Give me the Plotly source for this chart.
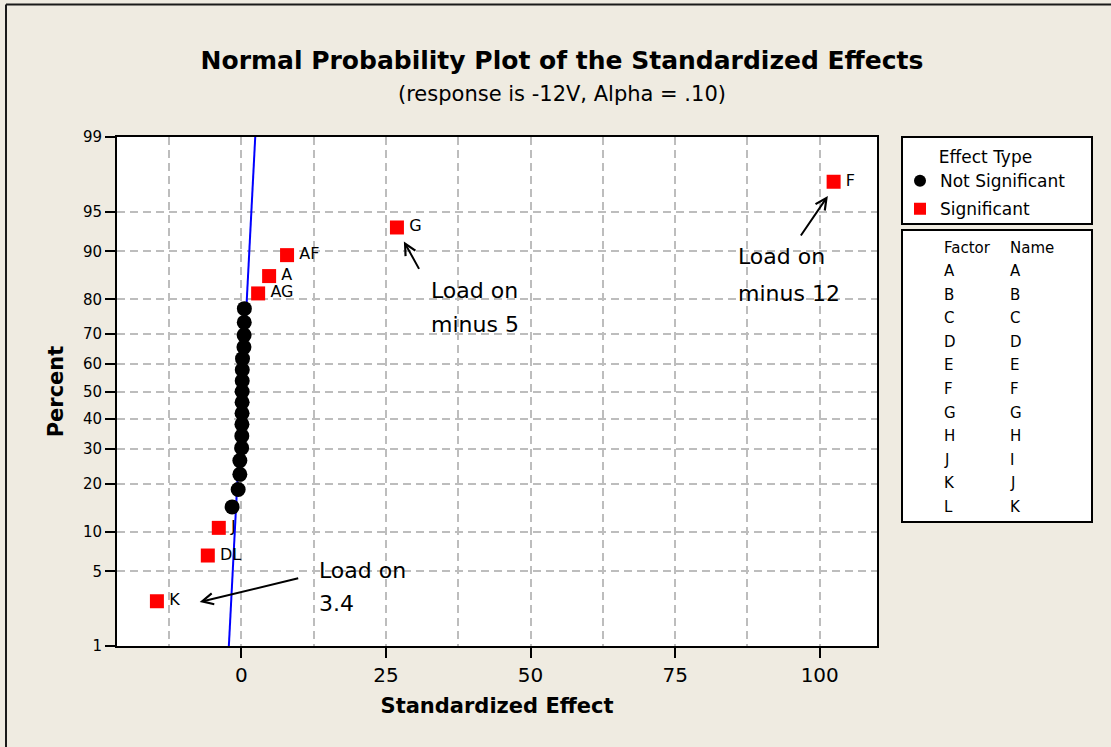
import plotly.graph_objects as go
from statistics import NormalDist

# ---------------- data ----------------
sig_labels = ["K", "DL", "J", "AG", "A", "AF", "G", "F"]
sig_effects = [-14.6, -5.8, -3.9, 2.9, 4.8, 7.9, 26.9, 102.4]
sig_percent = [2.76, 6.69, 10.63, 81.50, 85.43, 89.37, 93.31, 97.24]

ns_effects = [-1.6, -0.55, -0.26, -0.26, 0.05, 0.08, 0.10, 0.12, 0.13,
              0.14, 0.15, 0.16, 0.20, 0.45, 0.48, 0.50, 0.52]
ns_percent = [14.57, 18.50, 22.44, 26.38, 30.31, 34.25, 38.19, 42.13, 46.06,
              50.00, 53.94, 57.87, 61.81, 65.75, 69.69, 73.62, 77.56]

line_effects = [-2.16, 2.40]
line_percent = [1, 99]

percent_ticks = [1, 5, 10, 20, 30, 40, 50, 60, 70, 80, 90, 95, 99]

factor_codes = ["A", "B", "C", "D", "E", "F", "G", "H", "J", "K", "L"]
factor_names = ["A", "B", "C", "D", "E", "F", "G", "H", "I", "J", "K"]

notes = [  # (line1, line2, text x, text line1 pct, text line2 pct, arrow head x, head pct, tail dx, tail dy)
    ("Load on", "3.4", 13.0, 5.13, 2.66, -7.2, 2.72, 100, -24),
    ("Load on", "minus 5", 32.4, 82.3, 72.9, 28.1, 91.5, 16, 29),
    ("Load on", "minus 12", 85.6, 89.1, 81.6, 101.4, 96.3, -28, 41),
]

# ---------------- helpers ----------------
nd = NormalDist()


def probit(p):
    return nd.inv_cdf(p / 100.0)


FONT = "DejaVu Sans"
BG = "#EFEBE1"
L, R, T, B = 117, 877, 137, 646
W, H = 1111, 747


def xp(px):
    return (px - L) / (R - L)


def yp(py):
    return (B - py) / (B - T)


fig = go.Figure()

fig.add_trace(go.Scatter(
    x=line_effects, y=[probit(p) for p in line_percent], mode="lines",
    line=dict(color="#0000FF", width=2), showlegend=False, hoverinfo="skip"))

fig.add_trace(go.Scatter(
    x=ns_effects, y=[probit(p) for p in ns_percent], mode="markers",
    name="Not Significant", legendgroup="ns",
    marker=dict(symbol="circle", size=15, color="black")))

fig.add_trace(go.Scatter(
    x=sig_effects, y=[probit(p) for p in sig_percent], mode="markers",
    name="Significant", legendgroup="sig",
    marker=dict(symbol="square", size=14, color="#FF0000")))

# point labels (transparent markers only to offset the text to the right)
fig.add_trace(go.Scatter(
    x=sig_effects, y=[probit(p) for p in sig_percent], mode="markers+text",
    text=sig_labels, textposition="middle right",
    textfont=dict(family=FONT, size=16, color="black"),
    marker=dict(size=18, color="rgba(0,0,0,0)"), showlegend=False, hoverinfo="skip"))

grid = dict(showgrid=True, gridcolor="#BDBDBD", gridwidth=2, griddash="8px,5px")

fig.update_xaxes(
    range=[-21.5, 109.9], tick0=0, dtick=25, tickmode="linear",
    ticks="outside", ticklen=10, tickwidth=2, tickcolor="black",
    showline=True, linecolor="black", linewidth=2, mirror=True,
    zeroline=False,
    tickfont=dict(family=FONT, size=20, color="black"),
    title=dict(text="<b>Standardized Effect</b>",
               font=dict(family=FONT, size=21, color="black"), standoff=12),
    minor=dict(dtick=12.5, tick0=0, showgrid=True, gridcolor="#BDBDBD",
               gridwidth=2, griddash="8px,5px", ticks=""),
    **grid)

fig.update_yaxes(
    range=[probit(1), probit(99)], tickmode="array",
    tickvals=[probit(p) for p in percent_ticks],
    ticktext=[str(p) for p in percent_ticks],
    ticks="outside", ticklen=10, tickwidth=2, tickcolor="black",
    showline=True, linecolor="black", linewidth=2, mirror=True,
    zeroline=False,
    tickfont=dict(family=FONT, size=15, color="black"),
    title=dict(text="<b>Percent</b>",
               font=dict(family=FONT, size=21, color="black"), standoff=14),
    **grid)

annotations = []
# subtitle
annotations.append(dict(
    text="(response is -12V, Alpha = .10)", xref="paper", yref="paper",
    x=xp(562), y=yp(94), xanchor="center", yanchor="middle", showarrow=False,
    font=dict(family=FONT, size=21, color="black")))

# "Load on ..." notes with arrows
for l1, l2, tx, p1, p2, hx, hp, dx, dy in notes:
    for txt, p in ((l1, p1), (l2, p2)):
        annotations.append(dict(
            text=txt, x=tx, y=probit(p), xref="x", yref="y",
            xanchor="left", yanchor="middle", showarrow=False,
            font=dict(family=FONT, size=22, color="black")))
    annotations.append(dict(
        text="", x=hx, y=probit(hp), xref="x", yref="y",
        ax=dx, ay=dy, axref="pixel", ayref="pixel",
        showarrow=True, arrowhead=5, arrowsize=1.1, arrowwidth=2,
        arrowcolor="black", standoff=0))

# factor / name table
annotations.append(dict(text="Factor", xref="paper", yref="paper",
                        x=xp(942), y=yp(248), xanchor="left", yanchor="middle",
                        showarrow=False, font=dict(family=FONT, size=15, color="black")))
annotations.append(dict(text="Name", xref="paper", yref="paper",
                        x=xp(1008), y=yp(248), xanchor="left", yanchor="middle",
                        showarrow=False, font=dict(family=FONT, size=15, color="black")))
for k, (code, name) in enumerate(zip(factor_codes, factor_names)):
    yy = yp(271 + k * 23.6)
    annotations.append(dict(text=code, xref="paper", yref="paper",
                            x=xp(942), y=yy, xanchor="left", yanchor="middle",
                            showarrow=False, font=dict(family=FONT, size=15, color="black")))
    annotations.append(dict(text=name, xref="paper", yref="paper",
                            x=xp(1008), y=yy, xanchor="left", yanchor="middle",
                            showarrow=False, font=dict(family=FONT, size=15, color="black")))

shapes = [
    # outer frame (top & left)
    dict(type="line", xref="paper", yref="paper", x0=xp(6), x1=xp(W), y0=yp(4.5), y1=yp(4.5),
         line=dict(color="#1A1A1A", width=2)),
    dict(type="line", xref="paper", yref="paper", x0=xp(6), x1=xp(6), y0=yp(4.5), y1=yp(W),
         line=dict(color="#1A1A1A", width=2)),
    # legend boxes
    dict(type="rect", xref="paper", yref="paper", x0=xp(902), x1=xp(1092), y0=yp(224), y1=yp(137),
         fillcolor="white", line=dict(color="black", width=2), layer="below"),
    dict(type="rect", xref="paper", yref="paper", x0=xp(902), x1=xp(1092), y0=yp(522), y1=yp(230),
         fillcolor="white", line=dict(color="black", width=2), layer="below"),
]

fig.update_layout(
    width=W, height=H,
    margin=dict(l=L, r=W - R, t=T, b=H - B, pad=0),
    paper_bgcolor=BG, plot_bgcolor="white",
    font=dict(family=FONT, color="black"),
    title=dict(text="<b>Normal Probability Plot of the Standardized Effects</b>",
               x=562 / W, xanchor="center", y=1 - 60 / H, yanchor="middle",
               font=dict(family=FONT, size=25, color="black")),
    legend=dict(
        x=xp(900), y=yp(141), xanchor="left", yanchor="top",
        bgcolor="rgba(0,0,0,0)", borderwidth=0, tracegroupgap=3,
        title=dict(text="Effect Type", side="top center",
                   font=dict(family=FONT, size=17, color="black")),
        font=dict(family=FONT, size=17, color="black"),
        itemsizing="constant"),
    annotations=annotations,
    shapes=shapes,
)

fig.write_html("out.html", config={"displayModeBar": False},
               post_script="document.body.style.margin='0';")
